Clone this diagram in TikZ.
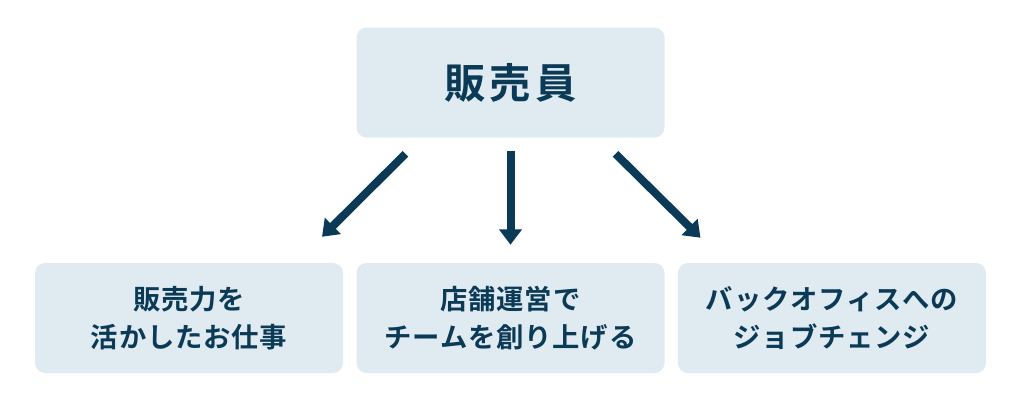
\documentclass[tikz,border=0pt]{standalone}
\usepackage{fontspec}
\usetikzlibrary{arrows.meta}
\usetikzlibrary{positioning}
\usetikzlibrary{calc}
\newfontfamily\jptitle{Noto Sans CJK JP Bold}[LetterSpace=10]
\newfontfamily\jptext{Noto Sans CJK JP Bold}[LetterSpace=3]
\definecolor{navy}{HTML}{0B3A57}
\definecolor{boxfill}{HTML}{E0EAF1}

\begin{document}
\begin{tikzpicture}[x=0.75pt,y=-0.75pt,node distance=241.1pt,on grid,
    box/.style={fill=boxfill,rounded corners=7.5pt,minimum width=231pt,minimum height=82.5pt,inner sep=0pt,align=center,text=navy},
    jobbox/.style={box,font=\jptext\fontsize{20.5}{28.5}\selectfont},
    arr/.style={navy,line width=6pt,-{Triangle[width=16.5pt,length=11.5pt]}}]
    \useasboundingbox (0,0) rectangle (1021,401);
            \node[box, font=\jptitle\fontsize{31}{36}\selectfont] (top) at (510.5,82.5) {販売員};
            \node[jobbox] (store) at (510.5,318) {店舗運営で\\チームを創り上げる};
            \node[jobbox] (skill) [left=of store] {販売力を\\活かしたお仕事};
            \node[jobbox] (back) [right=of store] {バックオフィスへの\\ジョブチェンジ};
            % arrows
            \draw[arr] ($(top.south)+(-105,16)$) -- ($(skill.north)+(133,-26)$);
            \draw[arr] ($(top.south)+(0,13)$) -- ($(store.north)+(0,-18)$);
            \draw[arr] ($(top.south)+(105,16)$) -- ($(back.north)+(-131.5,-25)$);
        \end{tikzpicture}
\end{document}
